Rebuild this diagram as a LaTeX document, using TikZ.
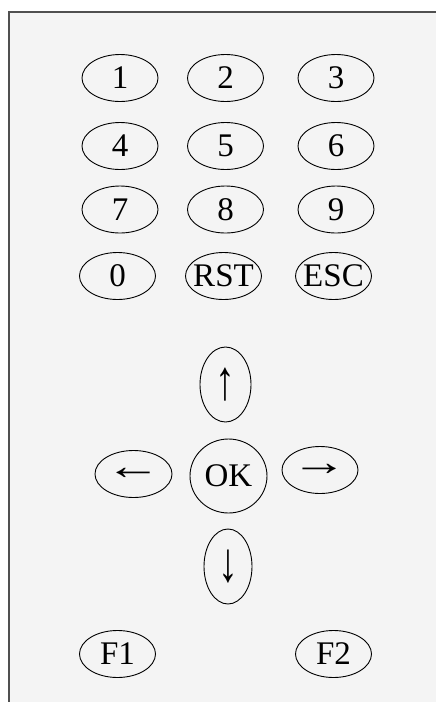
\documentclass[tikz,border=0pt]{standalone}
\usepackage{fontspec}
\setmainfont{Liberation Serif}
\usetikzlibrary{shapes.geometric}
\definecolor{panel}{HTML}{F4F4F4}
\definecolor{frame}{HTML}{505050}
\newcommand\keytext[1]{\makebox[0pt]{#1}}
\begin{document}
\begin{tikzpicture}[x=1pt,y=-1pt,
  keyfont/.style={font=\fontsize{33}{33}\selectfont},
  key/.style={ellipse,draw=black,line width=0.9pt,inner sep=0pt,keyfont,
              minimum width=76pt,minimum height=47pt},
  vkey/.style={key,minimum width=51pt,minimum height=75pt},
  okkey/.style={key,minimum width=77pt,minimum height=74pt}]
\useasboundingbox (0,0) rectangle (436,702);
\fill[white] (0,0) rectangle (436,702);
\fill[panel] (9,12) rectangle (436,702);
\draw[frame,line width=1.4pt] (9,702) -- (9,12) -- (436,12);
% digit rows
\node[key] (k1) at (120,78) {1};
\node[key] (k2) at (225.5,78) {2};
\node[key] (k3) at (336,78) {3};
\node[key] (k4) at (120,146) {4};
\node[key] (k5) at (225.5,146) {5};
\node[key] (k6) at (336,146) {6};
\node[key] (k7) at (120,209.5) {7};
\node[key] (k8) at (225.5,209.5) {8};
\node[key] (k9) at (336,209.5) {9};
\node[key] (k0) at (117.5,276) {0};
\node[key] (rst) at (223.5,276) {\keytext{RST}};
\node[key] (esc) at (333.5,276) {\keytext{ESC}};
% navigation
\node[vkey] (up) at (225.5,384.5) {\scalebox{1.2}[1.7]{↑}};
\node[okkey] (ok) at (228.5,476) {\keytext{OK}};
\node[key,minimum width=77pt] (left) at (133.5,474) {\keytext{\scalebox{1.7}[1.2]{←}}};
\node[key] (right) at (320,470) {\keytext{\scalebox{1.7}[1.2]{→}}};
\node[vkey,minimum width=48pt] (down) at (228,566.5) {\scalebox{1.2}[1.7]{↓}};
% function keys
\node[key] (f1) at (117.5,654) {\keytext{F1}};
\node[key] (f2) at (333.5,654) {\keytext{F2}};
\end{tikzpicture}
\end{document}
